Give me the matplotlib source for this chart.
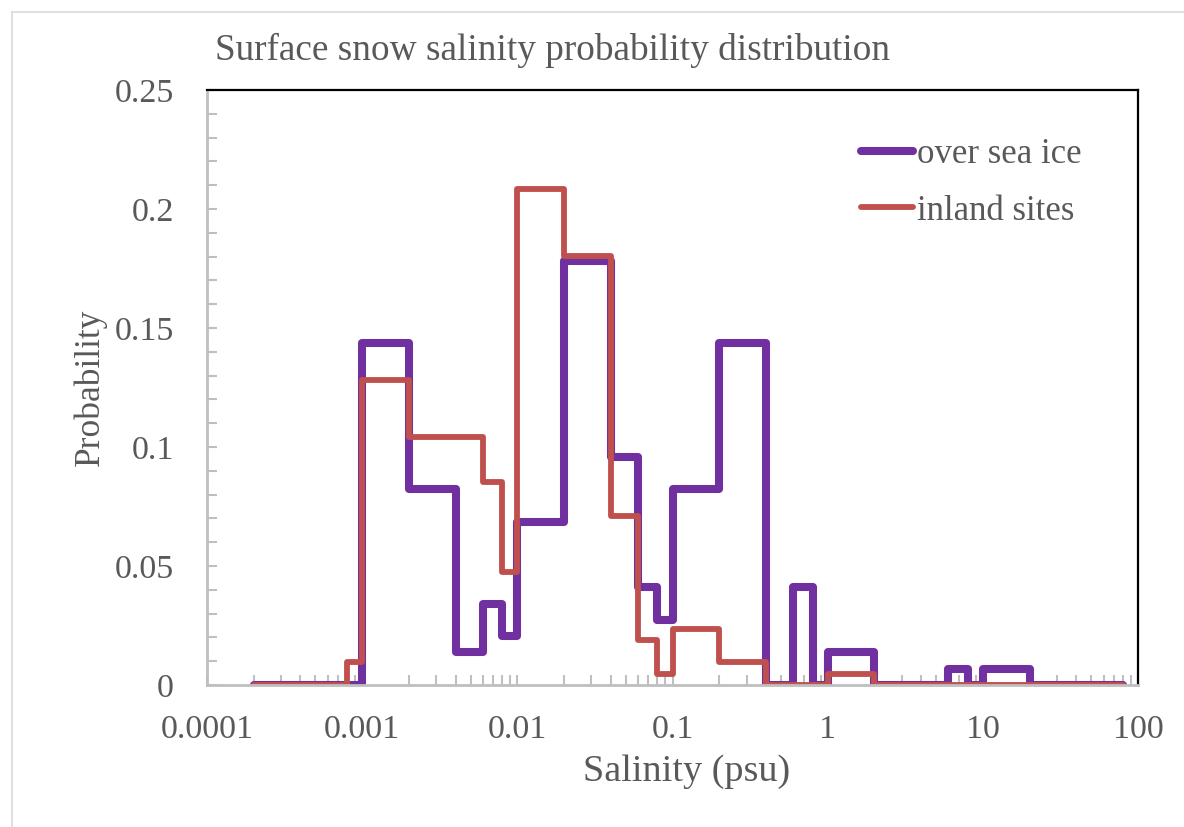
import matplotlib.pyplot as plt
import matplotlib.ticker as mticker
from matplotlib.lines import Line2D

# bin edges (psu), log bins
edges = [0.0002, 0.0004, 0.0006, 0.0008,
         0.001, 0.002, 0.004, 0.006, 0.008,
         0.01, 0.02, 0.04, 0.06, 0.08,
         0.1, 0.2, 0.4, 0.6, 0.8,
         1, 2, 4, 6, 8,
         10, 20, 40, 60, 80]

sea_ice = [0, 0, 0, 0,
           0.1438, 0.0822, 0.0137, 0.0342, 0.0205,
           0.0685, 0.1781, 0.0959, 0.0411, 0.0274,
           0.0822, 0.1438, 0, 0.0411, 0,
           0.0137, 0, 0, 0.0068, 0,
           0.0068, 0, 0, 0]

inland = [0, 0, 0, 0.0095,
          0.1280, 0.1043, 0.1043, 0.0853, 0.0474,
          0.2085, 0.1801, 0.0711, 0.0190, 0.0047,
          0.0237, 0.0095, 0, 0, 0,
          0.0047, 0, 0, 0, 0,
          0, 0, 0, 0]

purple = '#7030A0'
red = '#C0504D'
grey_txt = '#595959'
serif = ['Liberation Serif', 'DejaVu Serif']

fig = plt.figure(figsize=(11.84, 8.27), dpi=100)
ax = fig.add_axes([207/1184, 1-685/827, (1138-207)/1184, (685-90)/827])

l1, = ax.step(edges, sea_ice + [sea_ice[-1]], where='post', color=purple, lw=5.8, label='over sea ice')
l2, = ax.step(edges, inland + [inland[-1]], where='post', color=red, lw=4.2, label='inland sites')
for l in (l1, l2):
    l.set_solid_joinstyle('round')
    l.set_solid_capstyle('round')

ax.set_xscale('log')
ax.set_xlim(0.0001, 100)
ax.set_ylim(0, 0.25)

ax.xaxis.set_major_locator(mticker.LogLocator(base=10, numticks=20))
ax.xaxis.set_minor_locator(mticker.LogLocator(base=10, subs=range(2, 10), numticks=20))
ax.xaxis.set_major_formatter(mticker.FuncFormatter(lambda v, p: '%g' % v))
ax.xaxis.set_minor_formatter(mticker.NullFormatter())
ax.yaxis.set_major_locator(mticker.MultipleLocator(0.05))
ax.yaxis.set_minor_locator(mticker.MultipleLocator(0.01))
ax.yaxis.set_major_formatter(mticker.FuncFormatter(lambda v, p: '%g' % round(v, 3)))

ax.tick_params(which='both', direction='in', color='#BFBFBF', width=1.5, length=7,
               labelcolor=grey_txt, labelsize=24.5, top=False, right=False)
ax.tick_params(axis='x', pad=21)
ax.tick_params(axis='y', pad=24)
for lab in ax.get_xticklabels() + ax.get_yticklabels():
    lab.set_family(serif)

ax.spines['left'].set_color('#BFBFBF')
ax.spines['bottom'].set_color('#BFBFBF')
ax.spines['left'].set_linewidth(2)
ax.spines['bottom'].set_linewidth(2)
ax.spines['top'].set_color('black')
ax.spines['right'].set_color('black')
ax.spines['top'].set_linewidth(1.6)
ax.spines['right'].set_linewidth(1.6)

ax.set_xlabel('Salinity (psu)', fontsize=27.5, color=grey_txt, family=serif)
ax.xaxis.set_label_coords((687-207)/931, -(772-685)/595)
ax.xaxis.label.set_va('center')
ax.set_ylabel('Probability', fontsize=25.5, color=grey_txt, family=serif)
ax.yaxis.set_label_coords(-(207-90)/931, 0.5)
ax.yaxis.label.set_va('center')

fig.text(215/1184, 1-50/827, 'Surface snow salinity probability distribution',
         fontsize=26.8, color=grey_txt, family=serif, ha='left', va='center')

ax.legend(handles=[l1, l2], loc='upper left', bbox_to_anchor=((844-207)/931, (685-121)/595),
          frameon=False, borderpad=0, handlelength=1.5, handletextpad=0.1, labelspacing=0.67,
          prop={'family': serif, 'size': 25}, labelcolor=grey_txt)

# chart area border
fig.add_artist(Line2D([12/1184, 1], [1-12/827, 1-12/827], color='#D9D9D9', lw=1.2))
fig.add_artist(Line2D([12/1184, 12/1184], [1-12/827, 0], color='#D9D9D9', lw=1.2))

fig.savefig('out.png', dpi=100)
